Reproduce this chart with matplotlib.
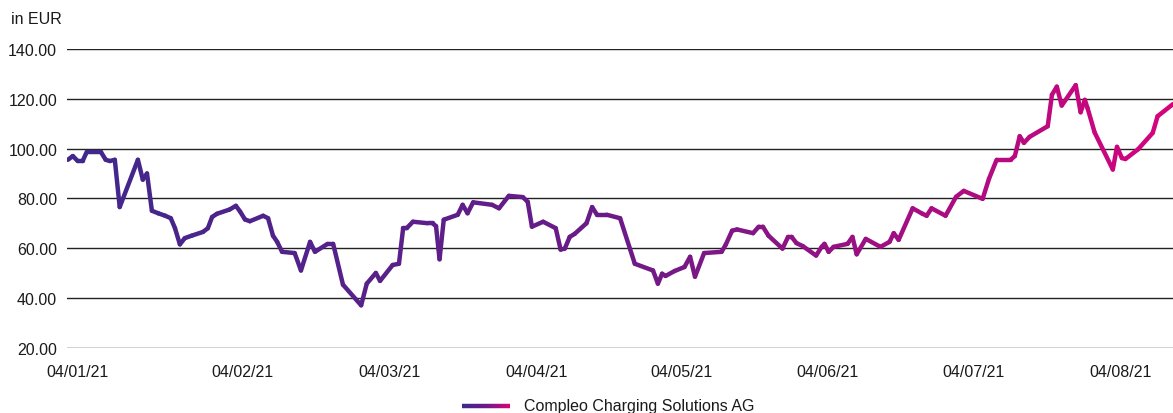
import numpy as np
import matplotlib

matplotlib.use("Agg")
import matplotlib.pyplot as plt
from matplotlib.collections import LineCollection
from matplotlib.colors import LinearSegmentedColormap

# trading days since 04/01/21 (vertices of the price line) and closing price in EUR
days = [
    0, 0.7, 1.4, 2.1, 2.7, 4.7, 5.4, 6.0, 6.7, 7.4, 10.0, 10.7, 11.3, 12.0, 12.9,
    13.9, 14.7, 15.3, 16.0, 16.7, 17.7, 19.3, 20.0, 20.6, 21.3, 23.1, 24.0, 24.6,
    25.3, 26.0, 27.9, 28.6, 29.3, 29.9, 30.6, 32.4, 33.3, 34.6, 35.3, 37.1, 37.9,
    39.3, 41.9, 42.7, 44.0, 44.6, 46.4, 47.3, 47.9, 48.4, 49.3, 51.4, 52.1, 52.6,
    53.1, 53.7, 55.7, 56.4, 57.1, 57.9, 60.6, 61.6, 63.0, 65.0, 65.7, 66.3, 67.9,
    69.7, 70.4, 71.0, 71.7, 72.4, 74.1, 74.9, 75.6, 77.0, 78.9, 81.0, 83.6, 84.3,
    84.9, 85.4, 86.7, 88.1, 88.9, 89.6, 90.9, 93.4, 94.0, 94.9, 95.6, 97.9, 98.7,
    99.3, 100.1, 102.1, 102.9, 103.4, 104.1, 105.0, 106.9, 107.7, 108.1, 108.7,
    109.4, 111.4, 112.1, 112.7, 114.0, 116.1, 117.4, 118.0, 118.7, 120.7, 122.1,
    122.7, 123.4, 125.4, 126.9, 128.0, 130.7, 131.6, 132.7, 134.7, 135.3, 136.0,
    136.6, 137.4, 140.0, 140.6, 141.3, 142.0, 144.0, 144.7, 145.3, 145.7, 146.7,
    149.3, 149.9, 150.6, 151.1, 152.9, 155.0, 155.7, 157.9,
]
price = [
    95.5, 97, 95, 95, 98.7, 98.7, 95.5, 95, 95.5, 76.5, 95.5, 87.5, 90, 75, 74,
    73, 72, 68, 61.5, 64, 65, 66.5, 68, 72.5, 73.8, 75.5, 77, 74.7,
    71.5, 70.8, 73, 72, 65, 62.5, 58.5, 58, 51, 62.5, 58.5, 61.7, 61.7,
    45.3, 37, 45.7, 50, 46.8, 53.2, 53.7, 68, 68, 70.6, 70, 70, 68.8,
    55.5, 71.4, 73.4, 77.4, 74, 78.4, 77.4, 76, 81, 80.5, 78.6, 68.6, 70.6,
    68, 59.4, 59.8, 64.5, 65.7, 70, 76.5, 73.4, 73.4, 72, 53.7, 51, 45.7,
    49.7, 48.8, 50.8, 52.4, 56.5, 48.5, 58, 58.5, 61.4, 67, 67.5, 66, 68.6,
    68.6, 65, 59.8, 64.5, 64.5, 62, 60.8, 57, 60.5, 61.7, 58.5,
    60.5, 61.7, 64.5, 57.5, 63.7, 60.5, 62.5, 66, 63.3, 76, 73.8,
    73, 76, 73, 80.6, 83, 79.8, 87.8, 95.5, 95.5, 97, 105,
    102.3, 104.7, 109, 121.6, 124.9, 117.3, 125.5, 114.6, 119.6, 116.2, 106.5,
    91.6, 100.7, 96.2, 95.8, 99.7, 106.3, 113, 117.9,
]
tick_days = [1.4, 25.0, 45.9, 66.9, 87.7, 108.6, 129.4, 150.4]
tick_labels = ["04/01/21", "04/02/21", "04/03/21", "04/04/21",
               "04/05/21", "04/06/21", "04/07/21", "04/08/21"]
y_ticks = [20, 40, 60, 80, 100, 120, 140]
series_name = "Compleo Charging Solutions AG"

plt.rcParams["font.family"] = ["Liberation Sans", "DejaVu Sans"]
cmap = LinearSegmentedColormap.from_list(
    "compleo", ["#40288c", "#6c1a88", "#d5047c"])

fig = plt.figure(figsize=(11.73, 4.14), dpi=100)
ax = fig.add_axes([0.057, 0.158, 0.943, 0.721])

x = np.asarray(days)
y = np.asarray(price)
pts = np.column_stack([x, y]).reshape(-1, 1, 2)
segs = np.concatenate([pts[:-1], pts[1:]], axis=1)
mid = (x[:-1] + x[1:]) / 2
lc = LineCollection(segs, cmap=cmap, linewidths=3.2, capstyle="round",
                    joinstyle="round", zorder=3)
lc.set_array(mid / x.max())
lc.set_clim(0, 1)
ax.add_collection(lc)

ax.set_xlim(-0.15, 157.9)
ax.set_ylim(20, 140)
ax.set_yticks(y_ticks)
ax.set_yticklabels([f"{v:.2f}" for v in y_ticks])
ax.set_xticks(tick_days)
ax.set_xticklabels(tick_labels)
ax.tick_params(axis="both", length=0, labelsize=11.5, colors="#1a1a1a")
ax.tick_params(axis="x", pad=12)
ax.tick_params(axis="y", pad=7)
ax.grid(True, axis="y", color="#222222", linewidth=1.0, zorder=1)
for s in ax.spines.values():
    s.set_visible(False)

fig.text(0.009, 0.952, "in EUR", fontsize=11.5, color="#1a1a1a", va="center")

# legend: gradient swatch + label below the plot
lx = np.linspace(0.394, 0.435, 40)
ly = np.full_like(lx, 0.017)
lpts = np.column_stack([lx, ly]).reshape(-1, 1, 2)
lsegs = np.concatenate([lpts[:-1], lpts[1:]], axis=1)
leg = LineCollection(lsegs, cmap=cmap, linewidths=3.2,
                     transform=fig.transFigure)
leg.set_array(np.linspace(0, 1, len(lsegs)))
fig.add_artist(leg)
fig.text(0.447, 0.017, series_name, fontsize=11.5, color="#1a1a1a",
         va="center")

fig.savefig("out.png", dpi=100)
